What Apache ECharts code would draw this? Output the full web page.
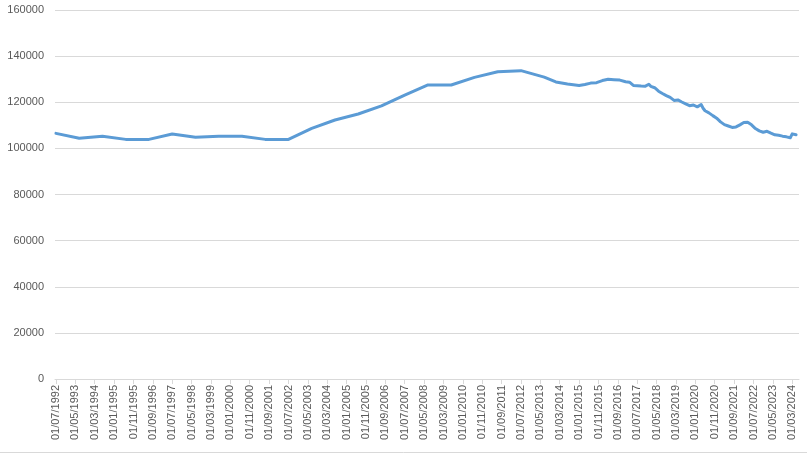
<!DOCTYPE html>
<html>
<head>
<meta charset="utf-8">
<script src="https://cdn.jsdelivr.net/npm/echarts@6/dist/echarts.min.js"></script>
<style>
html,body{margin:0;padding:0;background:#fff;}
#chart{width:807px;height:454px;}
</style>
</head>
<body>
<div id="chart"></div>
<script>
// Axis range (monthly category axis)
var startYear = 1992, startMonth = 7;
var endYear = 2024, endMonth = 6;
var labelEvery = 10; // months between tick labels

// Observations: date (YYYY-MM) and value
var dates = [
  '1992-07','1993-07','1994-07','1995-07','1996-07','1997-07','1998-07','1999-07','2000-07','2001-07',
  '2002-07','2003-07','2004-07','2005-07','2006-07','2007-07','2008-07','2009-07','2010-07','2011-07',
  '2012-07','2013-07','2014-01','2014-07','2015-01','2015-04','2015-07','2015-10','2016-01','2016-04',
  '2016-07','2016-10',
  '2017-01','2017-02','2017-03','2017-04','2017-05','2017-06','2017-07','2017-08','2017-09','2017-10','2017-11','2017-12',
  '2018-01','2018-02','2018-03','2018-04','2018-05','2018-06','2018-07','2018-08','2018-09','2018-10','2018-11','2018-12',
  '2019-01','2019-02','2019-03','2019-04','2019-05','2019-06','2019-07','2019-08','2019-09','2019-10','2019-11','2019-12',
  '2020-01','2020-02','2020-03','2020-04','2020-05','2020-06','2020-07','2020-08','2020-09','2020-10','2020-11','2020-12',
  '2021-01','2021-02','2021-03','2021-04','2021-05','2021-06','2021-07','2021-08','2021-09','2021-10','2021-11','2021-12',
  '2022-01','2022-02','2022-03','2022-04','2022-05','2022-06','2022-07','2022-08','2022-09','2022-10','2022-11','2022-12',
  '2023-01','2023-02','2023-03','2023-04','2023-05','2023-06','2023-07','2023-08','2023-09','2023-10','2023-11','2023-12',
  '2024-01','2024-02','2024-03','2024-04','2024-05'
];
var values = [
  106500,104400,105300,103900,103900,106200,104800,105300,105300,103900,
  103900,108700,112300,114900,118400,123100,127500,127500,130800,133200,
  133700,130900,128800,127900,127300,127700,128300,128500,129400,130000,
  129800,129600,
  128900,128500,128700,127900,127300,127600,127200,127300,127000,126800,126900,127300,
  127800,126900,126600,126300,125700,124800,124400,123800,123300,122900,122600,122100,
  122900,120800,121400,121000,120500,120100,119800,119300,119000,118500,118300,118800,
  119000,118000,118300,119000,117400,116300,115900,115400,115100,114200,113500,113100,
  112500,111500,110800,110300,110100,109700,109300,109100,109400,109300,109800,110200,
  110600,111200,111600,111300,111000,110200,109600,108600,108000,107600,107200,107000,
  106800,107400,107200,106600,106300,105900,105800,105700,105500,105300,105100,105000,
  104800,104600,106300,106200,105900
];

// Y axis ticks
var yMin = 0, yMax = 160000, yStep = 20000;

function pad(n){ return (n < 10 ? '0' : '') + n; }
var categories = [], keys = [];
(function(){
  var y = startYear, m = startMonth;
  while (y < endYear || (y === endYear && m <= endMonth)) {
    categories.push('01/' + pad(m) + '/' + y);
    keys.push(y + '-' + pad(m));
    m++; if (m > 12) { m = 1; y++; }
  }
})();
var seriesData = keys.map(function(){ return null; });
dates.forEach(function(d, i){
  var idx = keys.indexOf(d);
  if (idx >= 0) seriesData[idx] = values[i];
});

var chart = echarts.init(document.getElementById('chart'), null, {renderer:'canvas'});
var font = "'Liberation Sans', Arial, sans-serif";
chart.setOption({
  animation: false,
  backgroundColor: '#ffffff',
  grid: { left: 55, right: 8, top: 10, bottom: 75, containLabel: false },
  xAxis: {
    type: 'category',
    data: categories,
    boundaryGap: true,
    axisLine: { show: true, lineStyle: { color: '#d9d9d9', width: 1 } },
    axisTick: { show: true, interval: labelEvery - 1, alignWithLabel: true, length: 5, lineStyle: { color: '#d9d9d9' } },
    axisLabel: { interval: labelEvery - 1, rotate: 90, color: '#595959', fontSize: 11, fontFamily: font, margin: 6 },
    splitLine: { show: false }
  },
  yAxis: {
    type: 'value',
    min: yMin, max: yMax, interval: yStep,
    axisLine: { show: false },
    axisTick: { show: false },
    axisLabel: { color: '#595959', fontSize: 11, fontFamily: font, margin: 11,
      formatter: function(v){ return String(v); } },
    splitLine: { lineStyle: { color: '#d9d9d9', width: 1 } }
  },
  graphic: [{
    type: 'line', shape: { x1: 0, y1: 452.5, x2: 807, y2: 452.5 },
    style: { stroke: '#d9d9d9', lineWidth: 1 }, silent: true
  }],
  series: [{
    type: 'line',
    data: seriesData,
    connectNulls: true,
    symbol: 'none',
    lineStyle: { color: '#5B9BD5', width: 3, cap: 'round', join: 'round' },
    itemStyle: { color: '#5B9BD5' }
  }]
});
</script>
</body>
</html>
